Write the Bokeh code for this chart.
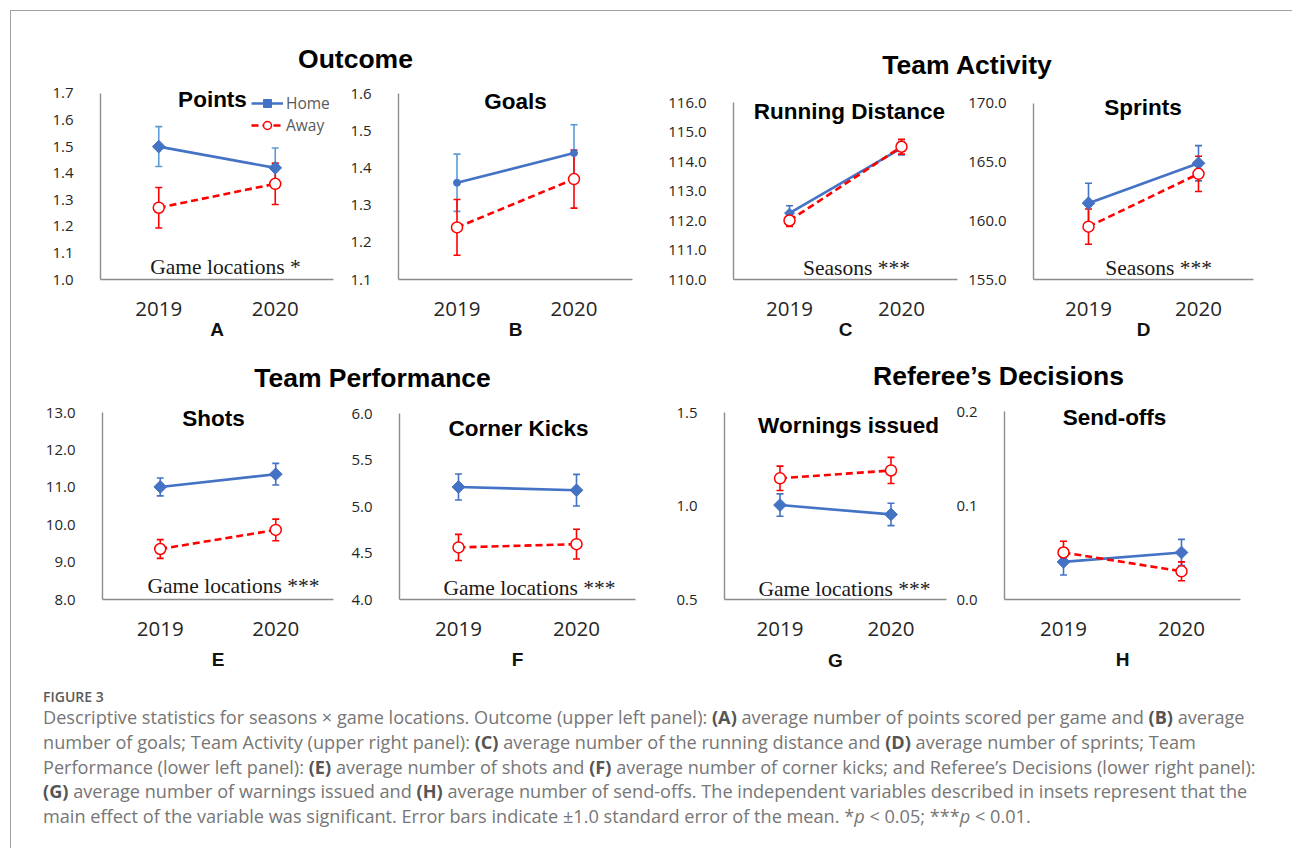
import numpy as np
from bokeh.plotting import figure
from bokeh.models import (Range1d, FactorRange, FixedTicker, NumeralTickFormatter, Label,
                          Legend, LegendItem, Whisker, TeeHead, ColumnDataSource, Div)
from bokeh.layouts import row, column
from bokeh.core.properties import value
from bokeh.embed import file_html
from bokeh.resources import INLINE

# ---------------- data ----------------
seasons = ["2019", "2020"]

points_home = [1.50, 1.42]
points_home_se = [0.075, 0.075]
points_away = [1.27, 1.36]
points_away_se = [0.076, 0.078]
points_ticks = [1.0, 1.1, 1.2, 1.3, 1.4, 1.5, 1.6, 1.7]

goals_home = [1.36, 1.44]
goals_home_se = [0.077, 0.076]
goals_away = [1.24, 1.37]
goals_away_se = [0.075, 0.078]
goals_ticks = [1.1, 1.2, 1.3, 1.4, 1.5, 1.6]

run_home = [112.25, 114.45]
run_home_se = [0.25, 0.23]
run_away = [112.0, 114.5]
run_away_se = [0.2, 0.25]
run_ticks = [110.0, 111.0, 112.0, 113.0, 114.0, 115.0, 116.0]

sprint_home = [161.5, 164.9]
sprint_home_se = [1.7, 1.5]
sprint_away = [159.5, 164.0]
sprint_away_se = [1.5, 1.5]
sprint_ticks = [155.0, 160.0, 165.0, 170.0]

shots_home = [11.01, 11.35]
shots_home_se = [0.24, 0.29]
shots_away = [9.35, 9.86]
shots_away_se = [0.25, 0.29]
shots_ticks = [8.0, 9.0, 10.0, 11.0, 12.0, 13.0]

corner_home = [5.21, 5.175]
corner_home_se = [0.14, 0.17]
corner_away = [4.56, 4.595]
corner_away_se = [0.14, 0.16]
corner_ticks = [4.0, 4.5, 5.0, 5.5, 6.0]

warn_home = [1.005, 0.955]
warn_home_se = [0.06, 0.06]
warn_away = [1.148, 1.19]
warn_away_se = [0.065, 0.07]
warn_ticks = [0.5, 1.0, 1.5]

send_home = [0.040, 0.050]
send_home_se = [0.014, 0.014]
send_away = [0.050, 0.030]
send_away_se = [0.012, 0.010]
send_ticks = [0.0, 0.1, 0.2]

# ---------------- style ----------------
HOME = "#4472C4"
HOME_ERR_LIGHT = "#5B9BD5"
AWAY = "#FF0000"
AXIS = "#8c8c8c"
TITLE_FONT = "Liberation Sans"
TICK_FONT = "Open Sans"
SERIF = "Liberation Serif"

TOTAL_W = 1262
X0 = 11  # page x where content starts
Y0 = 11  # page y where content starts


def make_panel(letter, title, home, home_se, away, away_se, ticks, canvas, frame,
               title_pos, inset=None, inset_pos=None, home_marker="diamond",
               home_size=9, err_home=HOME, legend=False, xlabel_standoff=0):
    cx0, cx1, cy0, cy1 = canvas
    fx0, fx1, fy0, fy1 = frame
    y0, y1 = ticks[0], ticks[-1]
    scale = (y1 - y0) / (fy1 - fy0)
    y_top = y1 + (fy0 - cy0) * scale  # room above the axis for the subtitle
    p = figure(width=cx1 - cx0, height=cy1 - cy0, title=None,
               x_range=FactorRange(factors=seasons, range_padding=0),
               y_range=Range1d(y0, y_top),
               toolbar_location=None, output_backend="svg",
               min_border_left=fx0 - cx0, min_border_right=cx1 - fx1,
               min_border_top=0, min_border_bottom=cy1 - fy1)
    p.outline_line_color = None
    p.grid.visible = False
    p.background_fill_color = "white"
    p.border_fill_color = "white"

    p.yaxis.ticker = FixedTicker(ticks=ticks)
    p.yaxis.formatter = NumeralTickFormatter(format="0.0")
    p.yaxis.bounds = (y0, y1)
    for ax in (p.xaxis[0], p.yaxis[0]):
        ax.axis_line_color = AXIS
        ax.axis_line_width = 1.4
        ax.major_tick_line_color = None
        ax.minor_tick_line_color = None
    p.yaxis.major_label_text_font = TICK_FONT
    p.yaxis.major_label_text_font_size = "15px"
    p.yaxis.major_label_text_color = "#262626"
    p.yaxis.major_label_standoff = 21
    p.xaxis.major_label_text_font = TICK_FONT
    p.xaxis.major_label_text_font_size = "20.5px"
    p.xaxis.major_label_text_color = "#262626"
    p.xaxis.major_label_standoff = 16
    p.xaxis.axis_label = letter
    p.xaxis.axis_label_text_font = TITLE_FONT
    p.xaxis.axis_label_text_font_style = "bold"
    p.xaxis.axis_label_text_font_size = "19px"
    p.xaxis.axis_label_text_color = "#111111"
    p.xaxis.axis_label_standoff = xlabel_standoff

    def to_data(px, py):
        xd = (px - fx0) / (fx1 - fx0) * 2.0
        yd = y0 + (fy1 - py) * scale
        return xd, yd

    hsrc = ColumnDataSource(dict(x=seasons, y=home,
                                 upper=[v + s for v, s in zip(home, home_se)],
                                 lower=[v - s for v, s in zip(home, home_se)]))
    asrc = ColumnDataSource(dict(x=seasons, y=away,
                                 upper=[v + s for v, s in zip(away, away_se)],
                                 lower=[v - s for v, s in zip(away, away_se)]))

    for src, col in ((hsrc, err_home), (asrc, AWAY)):
        w = Whisker(source=src, base="x", upper="upper", lower="lower",
                    line_color=col, line_width=1.6, level="underlay",
                    upper_head=TeeHead(size=7, line_color=col, line_width=1.6),
                    lower_head=TeeHead(size=7, line_color=col, line_width=1.6))
        p.add_layout(w)

    hl = p.line("x", "y", source=hsrc, line_color=HOME, line_width=2.6)
    if home_marker == "diamond":
        hs = p.scatter("x", "y", source=hsrc, marker="square", angle=np.pi / 4,
                       size=home_size, fill_color=HOME, line_color=HOME)
    else:
        hs = p.scatter("x", "y", source=hsrc, marker="circle",
                       size=home_size, fill_color=HOME, line_color=HOME)
    al = p.line("x", "y", source=asrc, line_color=AWAY, line_width=2.6, line_dash="7 4")
    as_ = p.scatter("x", "y", source=asrc, marker="circle", size=11,
                    fill_color="white", line_color=AWAY, line_width=1.5)

    tx, ty = to_data(*title_pos)
    p.add_layout(Label(x=tx, y=ty, text=title, text_align="center", text_baseline="middle",
                       text_font=TITLE_FONT, text_font_style="bold", text_font_size="22.5px",
                       text_color="#000000"))
    if inset:
        ix, iy = to_data(*inset_pos)
        p.add_layout(Label(x=ix, y=iy, text=inset, text_align="center", text_baseline="middle",
                           text_font=SERIF, text_font_size="21.5px", text_color="#1a1a1a"))
    if legend:
        # legend box: right edge near frame right, top at the top tick
        lg_w, lg_h = 82, 44
        lg = Legend(items=[LegendItem(label="Home", renderers=[hl, hs]),
                           LegendItem(label="Away", renderers=[al, as_])],
                    location=(fx1 - lg_w - fx0, fy1 - (fy0 + lg_h)),
                    glyph_width=32, glyph_height=20,
                    label_height=20, label_standoff=3, spacing=0, padding=0, margin=0,
                    border_line_color=None, background_fill_alpha=0,
                    label_text_font=TICK_FONT, label_text_font_size="15.5px",
                    label_text_color="#595959")
        p.add_layout(lg)
    return p


# row 1: page y 80 -> 347 ; row 2: page y 398 -> 682
R1 = (80, 347)
R2 = (398, 682)

pA = make_panel("A", "Points", points_home, points_home_se, points_away, points_away_se,
                points_ticks, (11, 340) + R1, (100, 333, 93, 280), (212, 99),
                "Game locations *", (225, 267), err_home=HOME_ERR_LIGHT, legend=True)
pB = make_panel("B", "Goals", goals_home, goals_home_se, goals_away, goals_away_se,
                goals_ticks, (340, 660) + R1, (398, 632, 93, 279), (515, 101),
                home_marker="circle", home_size=7, err_home=HOME_ERR_LIGHT)
pC = make_panel("C", "Running Distance", run_home, run_home_se, run_away, run_away_se,
                run_ticks, (660, 965) + R1, (733, 957, 102, 279), (849, 111),
                "Seasons ***", (856, 267), home_size=7)
pD = make_panel("D", "Sprints", sprint_home, sprint_home_se, sprint_away, sprint_away_se,
                sprint_ticks, (965, 1273) + R1, (1028, 1253, 103, 280), (1140, 107),
                "Seasons ***", (1156, 268))

pE = make_panel("E", "Shots", shots_home, shots_home_se, shots_away, shots_away_se,
                shots_ticks, (11, 340) + R2, (102, 333, 412, 599), (213, 418),
                "Game locations ***", (233, 585), xlabel_standoff=10)
pF = make_panel("F", "Corner Kicks", corner_home, corner_home_se, corner_away, corner_away_se,
                corner_ticks, (340, 660) + R2, (399, 635, 413, 599), (518, 428),
                "Game locations ***", (529, 587), xlabel_standoff=10)
pG = make_panel("G", "Wornings issued", warn_home, warn_home_se, warn_away, warn_away_se,
                warn_ticks, (660, 950) + R2, (724, 946, 412, 599), (848, 425),
                "Game locations ***", (844, 588), xlabel_standoff=11)
pH = make_panel("H", "Send-offs", send_home, send_home_se, send_away, send_away_se,
                send_ticks, (950, 1273) + R2, (1004, 1240, 411, 599), (1114, 417),
                xlabel_standoff=10)


def header(h, y_top, items):
    p = figure(width=TOTAL_W, height=h, x_range=Range1d(0, TOTAL_W), y_range=Range1d(h, 0),
               x_axis_type=None, y_axis_type=None, toolbar_location=None, title=None,
               output_backend="svg", min_border=0)
    p.outline_line_color = None
    p.grid.visible = False
    p.text(x=[it[1] - X0 for it in items], y=[it[2] - y_top for it in items],
           text=[it[0] for it in items], text_font=value(TITLE_FONT),
           text_font_style="bold", text_font_size="26.5px", text_color="#000000",
           text_align="center", text_baseline="middle")
    return p


h1 = header(R1[0] - Y0, Y0, [("Outcome", 355, 58), ("Team Activity", 967, 64)])
h2 = header(R2[0] - R1[1], R1[1], [("Team Performance", 372, 377),
                                   ("Referee\u2019s Decisions", 998, 375)])

B = "<b style='color:#555;font-weight:700'>"
caption_html = (
    "<div style=\"font-family:'Open Sans',sans-serif;color:#767676;padding-left:27px;\">"
    "<div style=\"font-size:14px;font-weight:600;color:#5a5a5a;line-height:18px;"
    "padding-top:1px;\">FIGURE 3</div>"
    "<div style=\"font-size:18.15px;line-height:24.8px;white-space:nowrap;"
    "margin-top:-1px;\">"
    "Descriptive statistics for seasons \u00d7 game locations. Outcome (upper left panel): "
    + B + "(A)</b> average number of points scored per game and "
    + B + "(B)</b> average<br>"
    "number of goals; Team Activity (upper right panel): " + B + "(C)</b> average "
    "number of the running distance and " + B + "(D)</b> average number of sprints; Team<br>"
    "Performance (lower left panel): " + B + "(E)</b> average number of shots and "
    + B + "(F)</b> average number of corner kicks; and Referee\u2019s Decisions "
    "(lower right panel):<br>"
    + B + "(G)</b> average number of warnings issued and "
    + B + "(H)</b> average number of send-offs. The independent variables "
    "described in insets represent that the<br>"
    "main effect of the variable was significant. Error bars indicate \u00b11.0 standard error "
    "of the mean. *<i>p</i> &lt; 0.05; ***<i>p</i> &lt; 0.01."
    "</div></div>"
)
cap = Div(text=caption_html, width=TOTAL_W + 18, height=160)

layout = column(h1, row(pA, pB, pC, pD), h2, row(pE, pF, pG, pH), cap,
                styles={"border-left": "1px solid #a0a0a0", "border-top": "1px solid #a0a0a0",
                        "margin-left": "10px", "margin-top": "10px"})

open("out.html", "w").write(file_html(layout, INLINE))
